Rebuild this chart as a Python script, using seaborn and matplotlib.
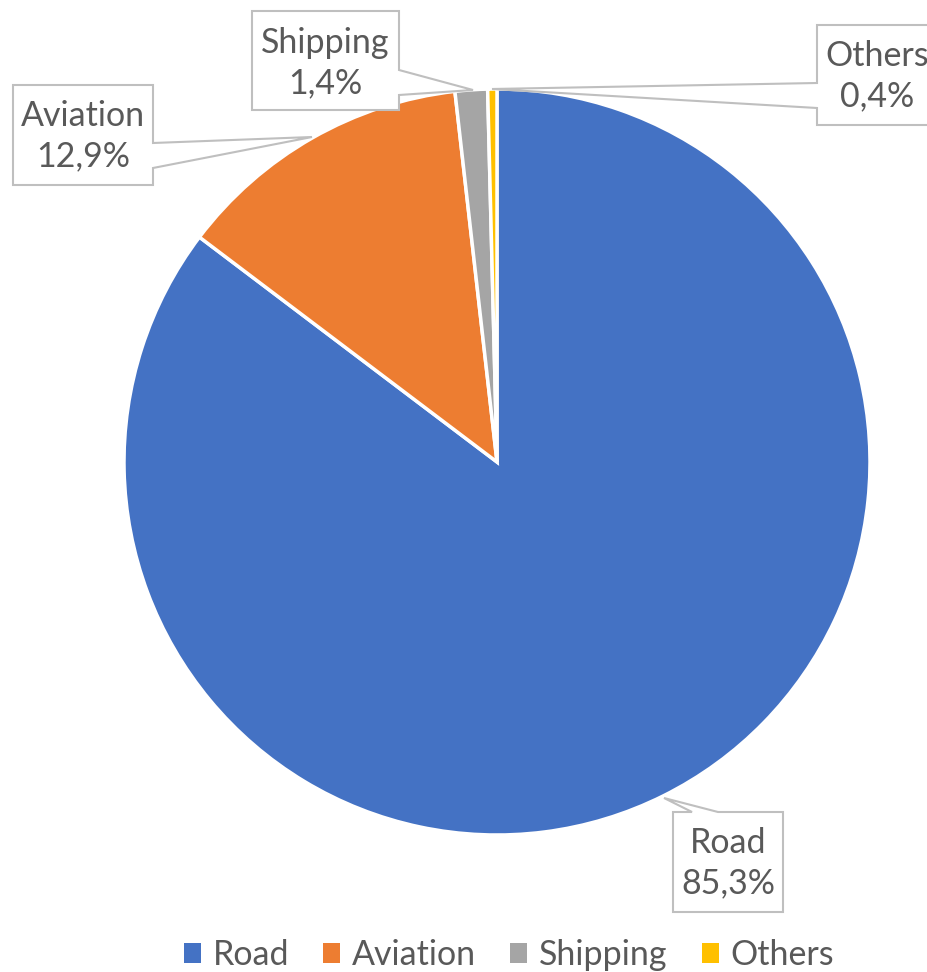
import matplotlib
matplotlib.use("Agg")
import matplotlib.pyplot as plt
from matplotlib.patches import Polygon, Patch
import seaborn as sns

# Transport-sector shares
categories = ["Road", "Aviation", "Shipping", "Others"]
shares = [85.3, 12.9, 1.4, 0.4]
colors = ["#4472C4", "#ED7D31", "#A5A5A5", "#FFC000"]

sns.set_theme(style="white")
plt.rcParams["font.family"] = ["Lato", "DejaVu Sans"]

W, H = 927, 972
fig = plt.figure(figsize=(W / 100, H / 100), dpi=100)
ax = fig.add_axes([0, 0, 1, 1])


def py(y):
    """Convert a top-down pixel row to data y."""
    return H - y


cx, cy, r = 497, 462, 373
ax.pie(shares, colors=colors, startangle=90, counterclock=False,
       center=(cx, py(cy)), radius=r, frame=True,
       wedgeprops=dict(edgecolor="white", linewidth=2.5))
ax.set_xlim(0, W)
ax.set_ylim(0, H)
ax.set_aspect("equal")
ax.axis("off")

# Callout boxes: outline (pixel coords) and text centre
callouts = {
    "Road": ([(673, 812), (692, 812), (664, 798), (718, 812), (783, 812),
              (783, 912), (673, 912)], (728, 863)),
    "Aviation": ([(13, 85), (153, 85), (153, 143), (312, 137), (153, 168),
                  (153, 185), (13, 185)], (83, 136)),
    "Shipping": ([(252, 11), (399, 11), (399, 70), (473, 90), (399, 95),
                  (399, 110), (252, 110)], (325, 63)),
    "Others": ([(817, 25), (960, 25), (960, 125), (817, 125), (817, 108),
                (492, 89), (817, 83)], (877, 76)),
}

text_color = "#595959"
for name, val in zip(categories, shares):
    pts, (tx, ty) = callouts[name]
    poly = Polygon([(x, py(y)) for x, y in pts], closed=True,
                   facecolor="white", edgecolor="#BFBFBF", linewidth=1.5,
                   zorder=5)
    ax.add_patch(poly)
    label = f"{name}\n" + f"{val:.1f}".replace(".", ",") + "%"
    ax.text(tx, py(ty), label, ha="center", va="center", fontsize=24.5,
            color=text_color, linespacing=1.33, zorder=6)

handles = [Patch(facecolor=c, edgecolor="none") for c in colors]
fig.legend(handles, categories, loc="center", ncol=4,
           bbox_to_anchor=(0.549, 1 - 955 / H), frameon=False,
           fontsize=24.5, labelcolor=text_color,
           handlelength=0.5, handleheight=0.5, handletextpad=0.35,
           columnspacing=1.0)

fig.savefig("out.png", dpi=100)
